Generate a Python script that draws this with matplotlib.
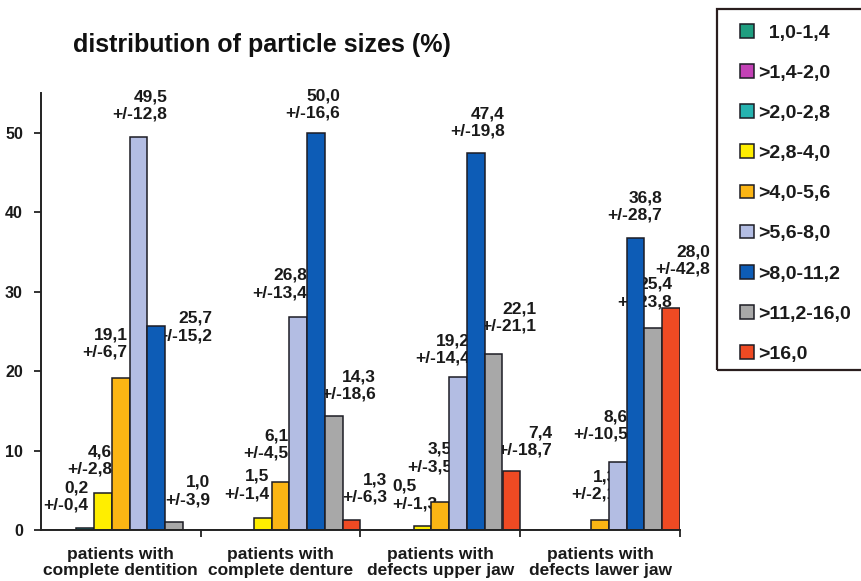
import matplotlib
matplotlib.use("Agg")
import matplotlib.pyplot as plt
from matplotlib.patches import Rectangle
from matplotlib.ticker import FixedLocator

plt.rcParams["font.family"] = ["Liberation Sans", "DejaVu Sans"]
plt.rcParams["font.weight"] = "bold"

# ---------------- data ----------------
groups = ["patients with\ncomplete dentition", "patients with\ncomplete denture",
          "patients with\ndefects upper jaw", "patients with\ndefects lawer jaw"]
size_classes = ["  1,0-1,4", ">1,4-2,0", ">2,0-2,8", ">2,8-4,0", ">4,0-5,6",
                ">5,6-8,0", ">8,0-11,2", ">11,2-16,0", ">16,0"]

mean_1_0_1_4 = [0.0, 0.0, 0.0, 0.0]
mean_1_4_2_0 = [0.0, 0.0, 0.0, 0.0]
mean_2_0_2_8 = [0.2, 0.0, 0.0, 0.0]
mean_2_8_4_0 = [4.6, 1.5, 0.5, 0.0]
mean_4_0_5_6 = [19.1, 6.1, 3.5, 1.3]
mean_5_6_8_0 = [49.5, 26.8, 19.2, 8.6]
mean_8_0_11_2 = [25.7, 50.0, 47.4, 36.8]
mean_11_2_16_0 = [1.0, 14.3, 22.1, 25.4]
mean_16_0 = [0.0, 1.3, 7.4, 28.0]

sd_1_0_1_4 = [None, None, None, None]
sd_1_4_2_0 = [None, None, None, None]
sd_2_0_2_8 = [0.4, None, None, None]
sd_2_8_4_0 = [2.8, 1.4, 1.3, None]
sd_4_0_5_6 = [6.7, 4.5, 3.5, 2.1]
sd_5_6_8_0 = [12.8, 13.4, 14.4, 10.5]
sd_8_0_11_2 = [15.2, 16.6, 19.8, 28.7]
sd_11_2_16_0 = [3.9, 18.6, 21.1, 23.8]
sd_16_0 = [None, 6.3, 18.7, 42.8]

means = [mean_1_0_1_4, mean_1_4_2_0, mean_2_0_2_8, mean_2_8_4_0, mean_4_0_5_6,
         mean_5_6_8_0, mean_8_0_11_2, mean_11_2_16_0, mean_16_0]
sds = [sd_1_0_1_4, sd_1_4_2_0, sd_2_0_2_8, sd_2_8_4_0, sd_4_0_5_6,
       sd_5_6_8_0, sd_8_0_11_2, sd_11_2_16_0, sd_16_0]

# ---------------- style ----------------
colors = ["#1f9e80", "#c341b6", "#26b3b0", "#ffee00", "#fbb514",
          "#b3bde3", "#0d5cb6", "#a8a8a8", "#ef4a23"]
edge = "#1c1c24"

# label placement in pixels: (dx of the aligned block edge vs right edge of bar,
# dy of block centre vs bar top, alignment), keyed by (series, group)
label_offsets = {
    (2, 0): (-6, 32, "right"), (3, 0): (0, 33, "right"), (4, 0): (-2, 35, "right"),
    (5, 0): (20, 31, "right"), (6, 0): (47, -1, "right"), (7, 0): (27, 31, "right"),
    (3, 1): (-2, 33, "right"), (4, 1): (-1, 37, "right"), (5, 1): (0, 33, "right"),
    (6, 1): (15, 28, "right"), (7, 1): (33, 31, "right"), (8, 1): (27, 31, "right"),
    (3, 2): (-39, 31, "left"), (4, 2): (3, 44, "right"), (5, 2): (3, 28, "right"),
    (6, 2): (20, 31, "right"), (7, 2): (34, 37, "right"), (8, 2): (32, 30, "right"),
    (4, 3): (8, 34, "right"), (5, 3): (1, 36, "right"), (6, 3): (18, 31, "right"),
    (7, 3): (10, 35, "right"), (8, 3): (30, 47, "right"),
}

W, H = 862, 581
fig = plt.figure(figsize=(W / 100, H / 100), dpi=100)
fig.patch.set_facecolor("white")
ax = fig.add_axes([41 / W, 1 - 530 / H, (680 - 41) / W, (530 - 93) / H])

n = len(means)
bw = 1.0 / n
for i, (vals, col, lab) in enumerate(zip(means, colors, size_classes)):
    xs = [g - 0.5 + (i + 0.5) * bw for g in range(len(groups))]
    ax.bar(xs, vals, width=bw, color=col, edgecolor=edge, linewidth=1.1,
           label=lab, zorder=2)
    for g, (v, s) in enumerate(zip(vals, sds[i])):
        if s is None:
            continue
        dx, dy, al = label_offsets[(i, g)]
        txt = f"{v:.1f}".replace(".", ",") + "\n+/-" + f"{s:.1f}".replace(".", ",")
        ax.annotate(txt, xy=(g - 0.5 + (i + 1) * bw, v), xytext=(dx, dy),
                    textcoords="offset pixels", ha=al, va="center",
                    multialignment=al, fontsize=12.5, fontweight="bold",
                    color="#1a1a1a", linespacing=1.2, zorder=1)

ax.set_xlim(-0.5, len(groups) - 0.5)
ax.set_ylim(0, 55)
ax.set_yticks([0, 10, 20, 30, 40, 50])
ax.set_xticks(range(len(groups)))
ax.set_xticklabels(groups, fontsize=12.5, fontweight="bold", linespacing=1.12)
ax.xaxis.set_minor_locator(FixedLocator([g + 0.5 for g in range(len(groups))]))
ax.tick_params(axis="x", which="major", length=0, pad=12, colors="#1a1a1a")
ax.tick_params(axis="x", which="minor", length=5, width=1.3, direction="out", color="#222")
ax.tick_params(axis="y", length=5, width=1.3, direction="out", pad=8, labelsize=11.5,
               color="#222", labelcolor="#1a1a1a")
for lab in ax.get_yticklabels():
    lab.set_fontweight("bold")
for sp in ["top", "right"]:
    ax.spines[sp].set_visible(False)
for sp in ["left", "bottom"]:
    ax.spines[sp].set_color("#222")
    ax.spines[sp].set_linewidth(1.4)
ax.set_facecolor("white")

fig.text(73 / W, 1 - 45 / H, "distribution of particle sizes (%)", ha="left",
         va="center", fontsize=18, fontweight="bold", color="#111")

# legend box
fig.patches.append(Rectangle((717 / W, 1 - 370 / H), 170 / W, 361 / H,
                             transform=fig.transFigure, fill=False,
                             edgecolor="#2a1e1e", linewidth=1.6))
handles, labels = ax.get_legend_handles_labels()
leg = fig.legend(handles, labels, loc="upper left",
                 bbox_to_anchor=(740 / W, 1 - 24 / H), frameon=False,
                 fontsize=14, handlelength=0.7, handleheight=0.7,
                 handletextpad=0.25, labelspacing=1.16, borderpad=0,
                 borderaxespad=0)
for t in leg.get_texts():
    t.set_fontweight("bold")
    t.set_color("#1a1a1a")

fig.savefig("out.png", dpi=100, facecolor="white")
